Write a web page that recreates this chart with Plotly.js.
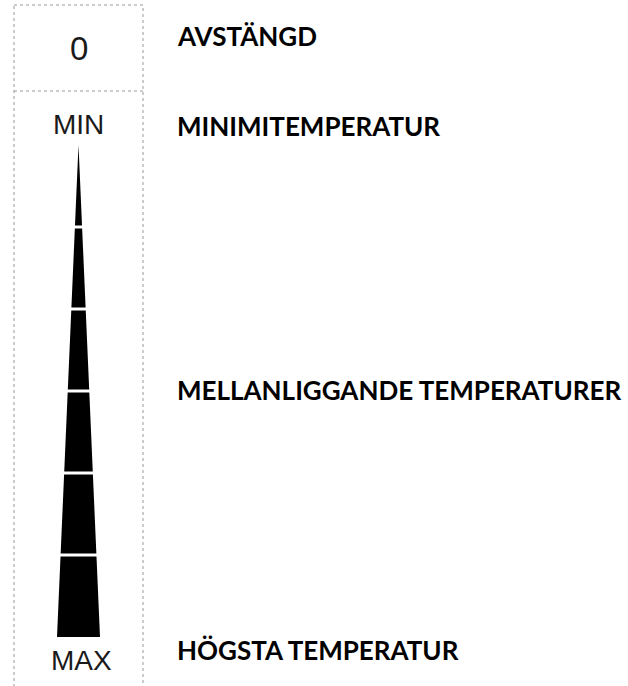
<!DOCTYPE html>
<html>
<head>
<meta charset="utf-8">
<script src="https://cdn.plot.ly/plotly-3.0.1.min.js"></script>
<style>html,body{margin:0;padding:0;background:#fff;}#chart{width:628px;height:686px;}</style>
</head>
<body>
<div id="chart"></div>
<script>
// ---- data ----
const levels = [0, 1, 2, 3, 4, 5, 6];            // temperature steps (0 = MIN tip, 6 = MAX)
const dividerLevels = [1, 2, 3, 4, 5];            // white separators between steps
const scaleLabels = ['0', 'MIN', 'MAX'];          // text in the left column
const descriptions = ['AVSTÄNGD', 'MINIMITEMPERATUR', 'MELLANLIGGANDE TEMPERATURER', 'HÖGSTA TEMPERATUR'];

// ---- layout constants (pixels) ----
const W = 628, H = 686;
const px = v => v / W, py = v => 1 - v / H;
const maxLevel = levels[levels.length - 1];
const halfW = levels.map(l => l / maxLevel);       // wedge half-width grows with level

// wedge outline
const wx = [0, -halfW[halfW.length - 1], halfW[halfW.length - 1], 0];
const wy = [levels[0], maxLevel, maxLevel, levels[0]];

// divider segments
const dx = [], dy = [];
dividerLevels.forEach(l => {
  const h = l / maxLevel + 0.15;
  dx.push(-h, h, null); dy.push(l, l, null);
});

const traces = [
  {x: wx, y: wy, type: 'scatter', mode: 'lines', fill: 'toself', fillcolor: '#000',
   line: {width: 0, color: '#000'}, hoverinfo: 'skip', showlegend: false},
  {x: dx, y: dy, type: 'scatter', mode: 'lines', line: {width: 3, color: '#fff'},
   hoverinfo: 'skip', showlegend: false}
];

const leftFont = {family: 'Liberation Sans', color: '#1a1a1a'};
const rightFont = {family: 'Lato', color: '#000', size: 26, weight: 'bold'};

const annotations = [
  {text: scaleLabels[0], x: px(78.5), y: py(49), size: 33},
  {text: scaleLabels[1], x: px(78.5), y: py(125), size: 28},
  {text: scaleLabels[2], x: px(81), y: py(660), size: 28}
].map(a => ({text: a.text, xref: 'paper', yref: 'paper', x: a.x, y: a.y,
  xanchor: 'center', yanchor: 'middle', showarrow: false,
  font: Object.assign({size: a.size}, leftFont)}));

const rightY = [36, 126, 390, 650];
descriptions.forEach((t, i) => annotations.push({
  text: t, xref: 'paper', yref: 'paper', x: px(175), y: py(rightY[i]),
  xanchor: 'left', yanchor: 'middle', showarrow: false, font: rightFont
}));

const borderLine = {color: '#999', width: 1, dash: 'dot'};
const shapes = [
  {type: 'rect', xref: 'paper', yref: 'paper', x0: px(14), x1: px(143), y0: py(5), y1: py(700), line: borderLine},
  {type: 'line', xref: 'paper', yref: 'paper', x0: px(14), x1: px(143), y0: py(91), y1: py(91), line: borderLine}
];

const layout = {
  width: W, height: H,
  margin: {l: 0, r: 0, t: 0, b: 0},
  paper_bgcolor: '#fff', plot_bgcolor: 'rgba(0,0,0,0)',
  xaxis: {domain: [px(14), px(143)], range: [-3, 3], visible: false, fixedrange: true},
  yaxis: {domain: [py(637), py(145)], range: [maxLevel, 0], visible: false, fixedrange: true},
  annotations: annotations,
  shapes: shapes,
  showlegend: false
};

Plotly.newPlot('chart', traces, layout, {displayModeBar: false, staticPlot: true});
</script>
</body>
</html>
